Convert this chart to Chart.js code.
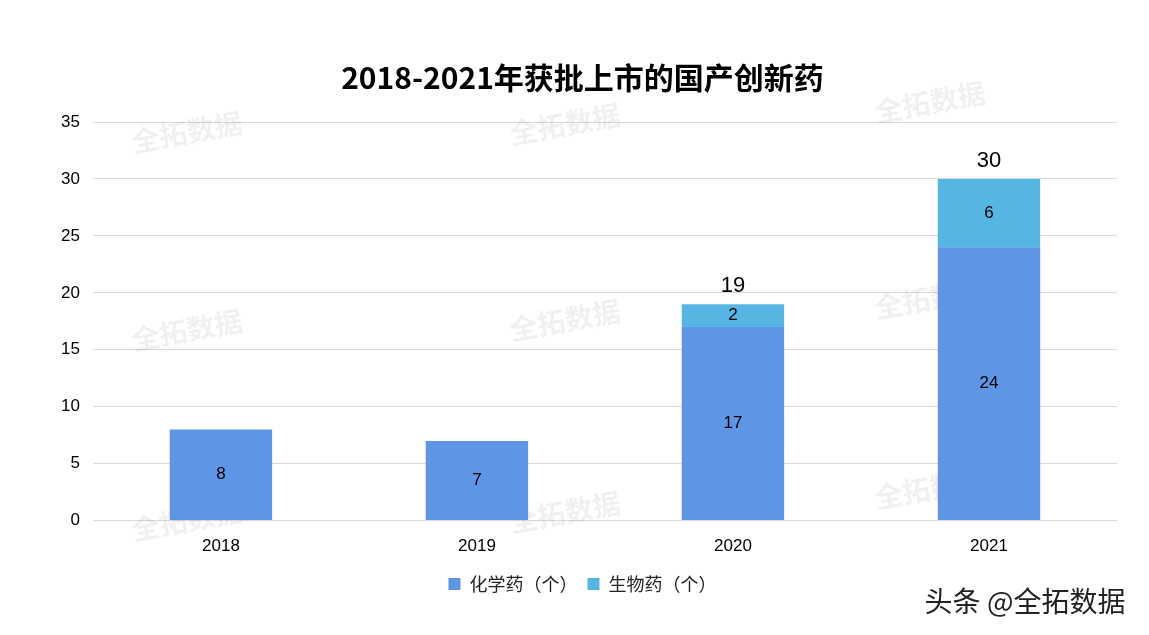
<!DOCTYPE html>
<html>
<head>
<meta charset="utf-8">
<script src="https://cdn.jsdelivr.net/npm/chart.js@4/dist/chart.umd.min.js"></script>
<style>
  html, body { margin: 0; padding: 0; background: #fff; }
  #wrap { width: 1149px; height: 635px; position: relative; }
</style>
</head>
<body>
<div id="wrap"><canvas id="myChart"></canvas></div>
<script>
const years = ['2018', '2019', '2020', '2021'];
const chemDrugs = [8, 7, 17, 24];
const bioDrugs = [null, null, 2, 6];
const yTicks = [0, 5, 10, 15, 20, 25, 30, 35];

const FONT = "'Liberation Sans', Arial, 'Noto Sans CJK SC', sans-serif";
const CJK = "'Noto Sans CJK SC', 'Liberation Sans', sans-serif";

// faint watermark grid behind the bars
const watermarkPlugin = {
   id: 'watermark',
   beforeDatasetsDraw(chart) {
      const ctx = chart.ctx;
      const spots = [
         [187, 132], [565, 124], [930, 102],
         [187, 330], [565, 320], [930, 298],
         [187, 520], [565, 512], [930, 488],
      ];
      ctx.save();
      ctx.font = 'bold 28px ' + CJK;
      ctx.fillStyle = 'rgba(0, 0, 0, 0.06)';
      ctx.textAlign = 'center';
      ctx.textBaseline = 'middle';
      spots.forEach(([x, y]) => {
         ctx.save();
         ctx.translate(x, y);
         ctx.rotate(-0.18);
         ctx.fillText('全拓数据', 0, 0);
         ctx.restore();
      });
      ctx.restore();
   },
};

const labelPlugin = {
   id: 'barLabels',
   afterDatasetsDraw(chart) {
      const ctx = chart.ctx;
      ctx.save();
      ctx.fillStyle = '#000';
      ctx.textAlign = 'center';
      ctx.textBaseline = 'middle';
      ctx.font = '17px ' + FONT;
      chart.data.datasets.forEach((ds, i) => {
         chart.getDatasetMeta(i).data.forEach((bar, j) => {
            const v = ds.data[j];
            if (v == null) return;
            ctx.fillText(String(v), bar.x, (bar.y + bar.base) / 2);
         });
      });
      // totals above stacked bars
      ctx.font = '22px ' + FONT;
      ctx.textBaseline = 'bottom';
      const top = chart.getDatasetMeta(1).data;
      years.forEach((y, j) => {
         if (bioDrugs[j] == null) return;
         const total = chemDrugs[j] + bioDrugs[j];
         ctx.fillText(String(total), top[j].x, top[j].y - 7);
      });
      ctx.restore();
   },
   afterDraw(chart) {
      const ctx = chart.ctx;
      ctx.save();
      ctx.font = '28px ' + CJK;
      ctx.textAlign = 'center';
      ctx.textBaseline = 'middle';
      ctx.fillStyle = '#fff';
      ctx.fillText('头条 @全拓数据', 1027, 603);
      ctx.fillStyle = '#222';
      ctx.fillText('头条 @全拓数据', 1025, 601);
      ctx.restore();
   },
};

new Chart(document.getElementById('myChart'), {
   type: 'bar',
   data: {
      labels: years,
      datasets: [
         {
            label: '化学药（个）',
            data: chemDrugs,
            backgroundColor: '#5F95E5',
            barPercentage: 0.8,
            categoryPercentage: 0.5,
         },
         {
            label: '生物药（个）',
            data: bioDrugs,
            backgroundColor: '#56B5E2',
            barPercentage: 0.8,
            categoryPercentage: 0.5,
         },
      ],
   },
   plugins: [watermarkPlugin, labelPlugin],
   options: {
      responsive: true,
      maintainAspectRatio: false,
      animation: false,
      layout: { padding: { left: 48, right: 32, top: 60, bottom: 32 } },
      plugins: {
         title: {
            display: true,
            text: '2018-2021年获批上市的国产创新药',
            color: '#000',
            font: { family: CJK, size: 30, weight: 'bold' },
            padding: { top: 0, bottom: 26 },
         },
         legend: {
            position: 'bottom',
            labels: {
               color: '#222',
               font: { family: CJK, size: 18 },
               boxWidth: 12,
               boxHeight: 12,
               padding: 10,
            },
         },
         tooltip: { enabled: false },
      },
      scales: {
         x: {
            stacked: true,
            grid: { display: false },
            border: { display: false },
            ticks: { color: '#000', font: { family: FONT, size: 17 }, padding: 8 },
         },
         y: {
            stacked: true,
            min: 0,
            max: 35,
            afterBuildTicks(axis) {
               axis.ticks = yTicks.map((v) => ({ value: v }));
            },
            grid: { color: '#D9D9D9', drawTicks: false },
            border: { display: false },
            ticks: { color: '#000', font: { family: FONT, size: 17 }, padding: 13 },
         },
      },
   },
});
</script>
</body>
</html>
